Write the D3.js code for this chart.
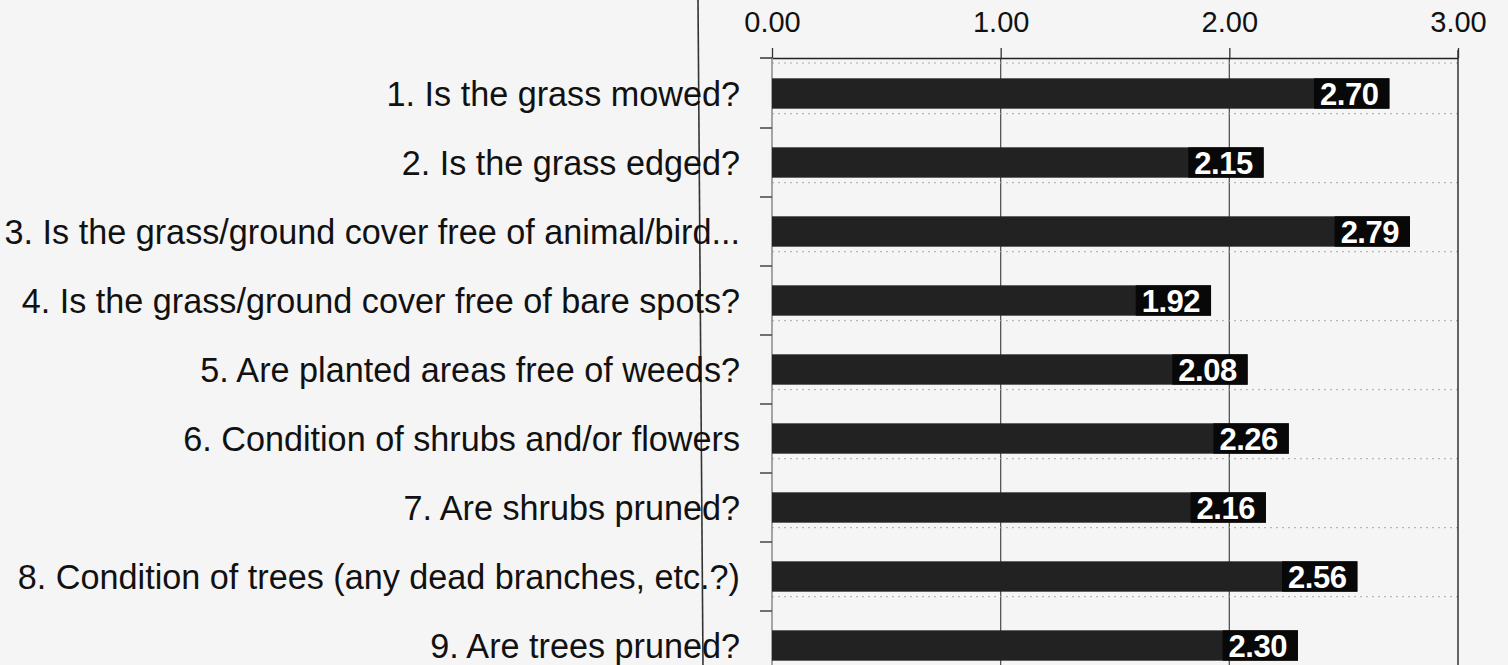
<!DOCTYPE html>
<html>
<head>
<meta charset="utf-8">
<script src="https://cdn.jsdelivr.net/npm/d3@7"></script>
<style>
    html, body { margin: 0; padding: 0; background: #f5f5f5; }
    svg { display: block; font-family: Arial, "Liberation Sans", sans-serif; }
</style>
</head>
<body>
<svg width="1508" height="665"></svg>
<script>
// survey questions and average scores
const questions = [
    "1. Is the grass mowed?",
    "2. Is the grass edged?",
    "3. Is the grass/ground cover free of animal/bird...",
    "4. Is the grass/ground cover free of bare spots?",
    "5. Are planted areas free of weeds?",
    "6. Condition of shrubs and/or flowers",
    "7. Are shrubs pruned?",
    "8. Condition of trees (any dead branches, etc.?)",
    "9. Are trees pruned?"
];
const scores = [2.70, 2.15, 2.79, 1.92, 2.08, 2.26, 2.16, 2.56, 2.30];
const tickValues = [0, 1, 2, 3];

function init() {
    const width = 1508, height = 665;
    const plot = { left: 772, right: 1458, top: 58 };
    const rowStep = 69;

    const svg = d3.select("svg");

    const x = d3.scaleLinear()
        .domain([0, 3])
        .range([plot.left, plot.right]);
    const y = d3.scaleBand()
        .domain(questions)
        .range([plot.top + 1, plot.top + 1 + rowStep * questions.length])
        .paddingInner(0.56)
        .paddingOuter(0.28);

    // stray line from the scanned original
    svg.append("line")
        .attr("x1", 698).attr("y1", 0)
        .attr("x2", 703).attr("y2", height)
        .attr("stroke", "#333").attr("stroke-width", 1.6);

    // vertical gridlines
    svg.append("g")
        .selectAll("line")
        .data(tickValues.slice(1, 3))
        .enter()
        .append("line")
            .attr("x1", d => x(d)).attr("x2", d => x(d))
            .attr("y1", plot.top).attr("y2", height)
            .attr("stroke", "#555").attr("stroke-width", 1.3);

    // faint dotted rows under each bar
    const dots = [plot.top + 5].concat(questions.map(q => y(q) + y.bandwidth() + 5));
    svg.append("g")
        .selectAll("line")
        .data(dots)
        .enter()
        .append("line")
            .attr("x1", plot.left).attr("x2", plot.right)
            .attr("y1", d => d).attr("y2", d => d)
            .attr("stroke", "#aaa").attr("stroke-width", 1)
            .attr("stroke-dasharray", "2,4");

    // top axis
    const axis = svg.append("g")
        .attr("transform", "translate(0," + plot.top + ")")
        .call(d3.axisTop(x)
            .tickValues(tickValues)
            .tickSize(10)
            .tickSizeOuter(0)
            .tickFormat(d3.format(".2f")));
    axis.select(".domain").attr("stroke", "#222").attr("stroke-width", 1.5);
    axis.selectAll(".tick line").attr("stroke", "#333").attr("stroke-width", 1.3);
    axis.selectAll(".tick text")
        .attr("y", -26)
        .attr("fill", "#111")
        .style("font-size", "29px");

    // left edge, right border
    svg.append("line")
        .attr("x1", plot.left).attr("x2", plot.left)
        .attr("y1", plot.top).attr("y2", height)
        .attr("stroke", "#888").attr("stroke-width", 1.5);
    svg.append("line")
        .attr("x1", plot.right).attr("x2", plot.right)
        .attr("y1", plot.top - 8).attr("y2", height)
        .attr("stroke", "#333").attr("stroke-width", 1.5);
    svg.append("line")
        .attr("x1", plot.left - 12).attr("x2", plot.left)
        .attr("y1", plot.top).attr("y2", plot.top)
        .attr("stroke", "#333").attr("stroke-width", 1.5);

    // row boundary ticks
    const bounds = questions.map(q => y(q) + y.bandwidth() + y.step() * y.paddingInner() / 2);
    svg.append("g")
        .selectAll("line")
        .data(bounds)
        .enter()
        .append("line")
            .attr("x1", plot.left - 12).attr("x2", plot.left)
            .attr("y1", d => d).attr("y2", d => d)
            .attr("stroke", "#444").attr("stroke-width", 1.5);

    // category labels
    svg.append("g")
        .selectAll("text")
        .data(questions)
        .enter()
        .append("text")
            .attr("x", 740)
            .attr("y", d => y(d) + y.bandwidth() / 2)
            .attr("dy", "0.36em")
            .attr("text-anchor", "end")
            .attr("fill", "#111")
            .style("font-size", "34.2px")
            .text(d => d);

    // bars
    const data = questions.map((q, i) => ({ q: q, v: scores[i] }));
    svg.selectAll(".bar")
        .data(data)
        .enter()
        .append("rect")
            .attr("class", "bar")
            .attr("x", x(0))
            .attr("y", d => y(d.q))
            .attr("width", d => x(d.v) - x(0))
            .attr("height", y.bandwidth())
            .attr("fill", "#222");

    // value labels with a black box
    const labels = svg.append("g")
        .selectAll("g")
        .data(data)
        .enter()
        .append("g");
    labels.append("text")
            .attr("x", d => x(d.v) - 11)
            .attr("y", d => y(d.q) + y.bandwidth() / 2)
            .attr("dy", "0.36em")
            .attr("text-anchor", "end")
            .attr("fill", "#fff")
            .style("font-size", "31px")
            .style("font-weight", "bold")
            .style("letter-spacing", "-0.5px")
            .text(d => d3.format(".2f")(d.v));
    labels.each(function (d) {
        const b = d3.select(this).select("text").node().getBBox();
        d3.select(this).insert("rect", "text")
            .attr("x", b.x - 6)
            .attr("y", y(d.q))
            .attr("width", x(d.v) - b.x + 6)
            .attr("height", y.bandwidth())
            .attr("fill", "#080808");
    });
}

init();
</script>
</body>
</html>
